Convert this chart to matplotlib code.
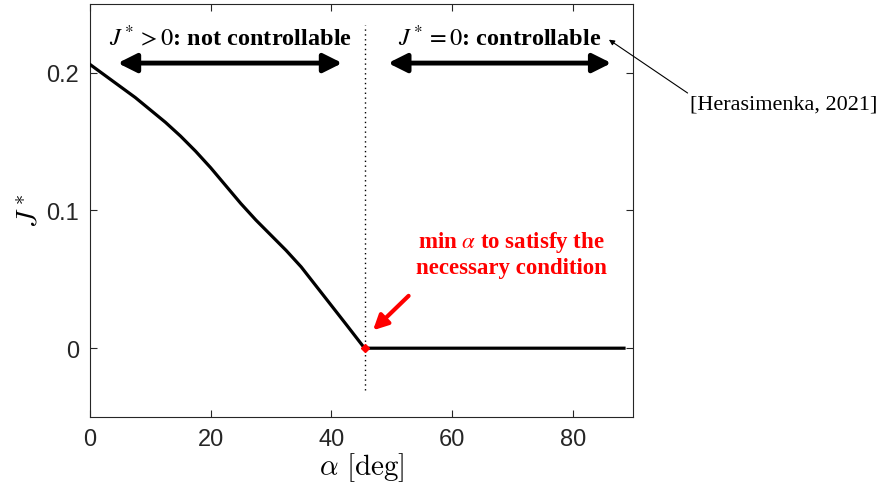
import matplotlib
matplotlib.use('Agg')
import matplotlib.pyplot as plt
import numpy as np

plt.rcParams['mathtext.fontset'] = 'stix'

# data
alpha = [0, 2.5, 5, 7.5, 10, 12.5, 15, 17.5, 20, 22.5, 25, 27.5, 30, 32.5, 35,
         37.5, 40, 42.5, 45.5, 50, 60, 70, 80, 88.5]
J_star = [0.206, 0.198, 0.190, 0.182, 0.173, 0.164, 0.154, 0.143, 0.131, 0.118,
          0.105, 0.093, 0.082, 0.071, 0.059, 0.045, 0.031, 0.017, 0.0,
          0.0, 0.0, 0.0, 0.0, 0.0]
alpha_min = 45.5
x_ticks = [0, 20, 40, 60, 80]
y_ticks = [0, 0.1, 0.2]

fig = plt.figure(figsize=(8.79, 4.85), dpi=100)
ax = fig.add_axes([0.1024, 0.138, 0.6178, 0.852])

ax.plot(alpha, J_star, color='k', lw=2.3, zorder=3)
ax.plot([alpha_min], [0], marker='D', color='red', ms=4.5, zorder=4)
ax.plot([alpha_min, alpha_min], [-0.03, 0.235], color='k', lw=1, ls=(0, (1, 2.5)))

ax.set_xlim(0, 90)
ax.set_ylim(-0.05, 0.25)
ax.set_xticks(x_ticks)
ax.set_yticks(y_ticks)
ax.set_yticklabels(['0', '0.1', '0.2'])
ax.tick_params(direction='in', top=True, right=True, length=5, width=0.8,
               labelsize=17, colors='#262626', pad=8)
for lab in ax.get_xticklabels() + ax.get_yticklabels():
    lab.set_family('Liberation Sans')
for s in ax.spines.values():
    s.set_color('#262626')
    s.set_linewidth(0.8)

ax.set_xlabel(r'$\alpha\ [\mathrm{deg}]$', fontsize=21, math_fontfamily='cm', labelpad=0)
ax.set_ylabel(r'$J^*$', fontsize=21, math_fontfamily='cm', labelpad=2)

# double arrows
arr = dict(arrowstyle='<|-|>', lw=3.5, color='k', mutation_scale=28, shrinkA=0, shrinkB=0)
ax.annotate('', xy=(4.6, 0.207), xytext=(41.8, 0.207), arrowprops=arr)
ax.annotate('', xy=(49.4, 0.207), xytext=(86.4, 0.207), arrowprops=arr)

ax.text(23.2, 0.226, r'$J^* > 0$: not controllable', ha='center', va='center',
        fontsize=17.5, fontweight='bold', family='Liberation Serif')
ax.text(67.8, 0.226, r'$J^* = 0$: controllable', ha='center', va='center',
        fontsize=17.5, fontweight='bold', family='Liberation Serif')

# red note
ax.text(69.8, 0.0685, 'min $\\alpha$ to satisfy the\nnecessary condition', ha='center',
        va='center', fontsize=16.5, fontweight='bold', color='red',
        family='Liberation Serif', linespacing=1.2)
ax.annotate('', xy=(46.9, 0.013), xytext=(52.8, 0.038),
            arrowprops=dict(arrowstyle='-|>', lw=3, color='red', mutation_scale=22,
                            shrinkA=0, shrinkB=0))

# reference
ax.annotate('[Herasimenka, 2021]', xy=(86.0, 0.224), xytext=(99.5, 0.177),
            ha='left', va='center', fontsize=16, family='Liberation Serif',
            annotation_clip=False,
            arrowprops=dict(arrowstyle='-|>', lw=0.8, color='k', mutation_scale=8,
                            shrinkA=0, shrinkB=0, relpos=(0, 1)))

plt.savefig('out.png', dpi=100)
